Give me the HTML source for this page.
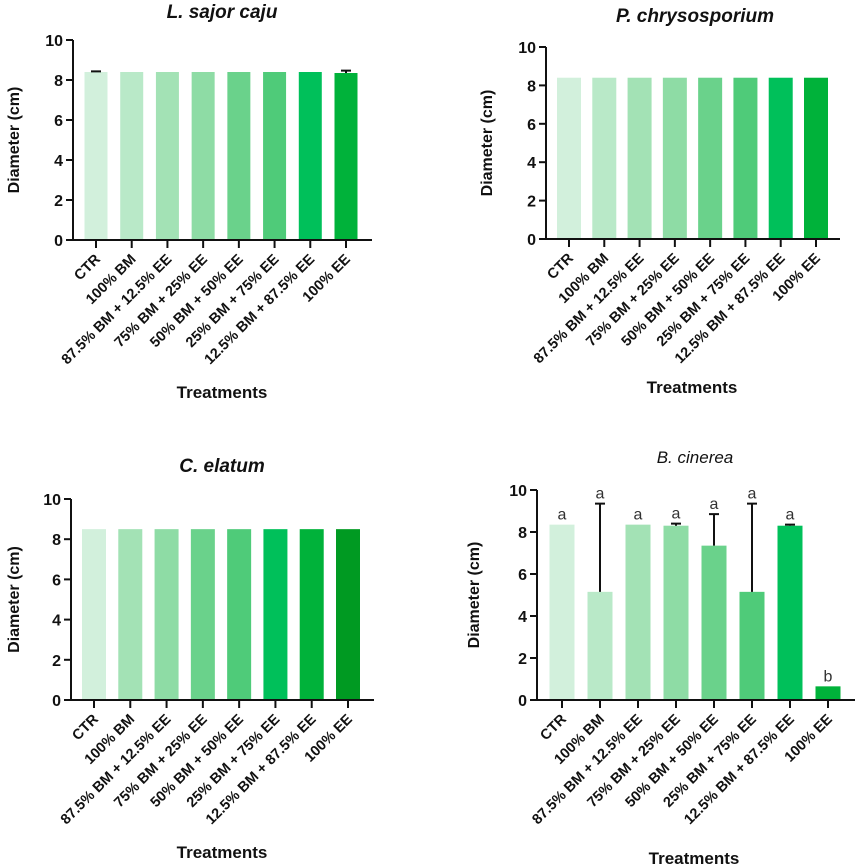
<!DOCTYPE html>
<html><head><meta charset="utf-8"><style>
html,body{margin:0;padding:0;background:#fff;}
svg{display:block;font-family:"Liberation Sans",Arial,sans-serif;}
</style></head><body>
<svg id="fig" width="858" height="867" viewBox="0 0 858 867" xmlns="http://www.w3.org/2000/svg"></svg>
<script>
const categories = ["CTR","100% BM","87.5% BM + 12.5% EE","75% BM + 25% EE","50% BM + 50% EE","25% BM + 75% EE","12.5% BM + 87.5% EE","100% EE"];
const yTicks = [0,2,4,6,8,10];
const lsajorValues = [8.4,8.4,8.4,8.4,8.4,8.4,8.4,8.35];
const lsajorErrors = [0.03,0,0,0,0,0,0,0.12];
const pchrysoValues = [8.4,8.4,8.4,8.4,8.4,8.4,8.4,8.4];
const pchrysoErrors = [0,0,0,0,0,0,0,0];
const celatumValues = [8.5,8.5,8.5,8.5,8.5,8.5,8.5,8.5];
const celatumErrors = [0,0,0,0,0,0,0,0];
const bcinereaValues = [8.35,5.15,8.35,8.3,7.35,5.15,8.3,0.65];
const bcinereaErrors = [0,4.2,0,0.1,1.5,4.2,0.05,0];
const bcinereaLetters = ["a","a","a","a","a","a","a","b"];

const colorsA = ["#d2f0dc","#b9e9c8","#a3e2b5","#8edca5","#6ad28b","#4fcb79","#00c05a","#00b23a"];
const colorsC = ["#d2f0dc","#a3e2b5","#8edca5","#6ad28b","#4fcb79","#00c05a","#00b23a","#009a22"];

const NS="http://www.w3.org/2000/svg";
const svg=document.getElementById('fig');
function mk(tag,attrs,parent){const e=document.createElementNS(NS,tag);for(const k in attrs)e.setAttribute(k,attrs[k]);(parent||svg).appendChild(e);return e;}

function chart(cfg){
  const g=mk('g',{});
  
  
  const yS=v=>cfg.y0+(cfg.y10-cfg.y0)*v/10;
  const xS=i=>cfg.c0+(cfg.c1-cfg.c0)*i/(categories.length-1);
  const t=mk('text',{x:cfg.tx,y:cfg.ty,'text-anchor':'middle','font-size':cfg.titleBold?19:17,'font-weight':cfg.titleBold?'bold':'normal','font-style':'italic',fill:'#111'},g);
  t.textContent=cfg.title;
  
  
  cfg.values.forEach((v,i)=>{
    const cx=xS(i);
    const r=mk('rect',{x:cx-cfg.bw/2,y:yS(v),width:cfg.bw,height:yS(0)-yS(v),fill:cfg.colors[i]},g);
    
    
    const e=cfg.errors[i];
    if(e>0){
      const el=mk('path',{d:`M${cx} ${yS(v)}V${yS(v+e)}M${cx-5} ${yS(v+e)}H${cx+5}`,stroke:'#111','stroke-width':2,fill:'none'},g);
      
      
    }
    if(cfg.letters){
      const lt=mk('text',{x:cx,y:yS(v+e)-5,'text-anchor':'middle','font-size':16,fill:'#333'},g);
      lt.textContent=cfg.letters[i];
      
      
    }
    mk('line',{x1:cx,x2:cx,y1:yS(0),y2:yS(0)+8,stroke:'#111','stroke-width':2},g);
    const lx=cx+5, ly=yS(0)+20;
    const tl=mk('text',{x:lx,y:ly,'text-anchor':'end','font-size':14.5,'font-weight':'bold',fill:'#111',transform:`rotate(-45 ${lx} ${ly})`},g);
    tl.textContent=categories[i];
    
    
  });
  mk('path',{d:`M${cfg.ax} ${yS(10)}V${yS(0)}H${cfg.aend}`,stroke:'#111','stroke-width':2,fill:'none'},g);
  yTicks.forEach(v=>{
    mk('line',{x1:cfg.ax-7,x2:cfg.ax,y1:yS(v),y2:yS(v),stroke:'#111','stroke-width':2},g);
    const yl=mk('text',{x:cfg.ax-10,y:yS(v)+6,'text-anchor':'end','font-size':16,'font-weight':'bold',fill:'#111'},g);
    yl.textContent=v;
    
    
  });
  const cy=(yS(0)+yS(10))/2;
  const ylab=mk('text',{x:cfg.ylx,y:cy,'text-anchor':'middle','font-size':16,'font-weight':'bold',fill:'#111',transform:`rotate(-90 ${cfg.ylx} ${cy})`},g);
  ylab.textContent='Diameter (cm)';
  
  
  const xl=mk('text',{x:cfg.xtx,y:cfg.xty,'text-anchor':'middle','font-size':17,'font-weight':'bold',fill:'#111'},g);
  xl.textContent='Treatments';
  
  
}

chart({name:'chart-l-sajor-caju',title:'L. sajor caju',titleBold:true,tx:222,ty:18,values:lsajorValues,errors:lsajorErrors,colors:colorsA,
  ax:73,aend:372,y0:240,y10:40,c0:96,c1:346,bw:23,ylx:19,xtx:222,xty:398});
chart({name:'chart-p-chrysosporium',title:'P. chrysosporium',titleBold:true,tx:695,ty:22,values:pchrysoValues,errors:pchrysoErrors,colors:colorsA,
  ax:546,aend:840,y0:239,y10:47,c0:569,c1:816,bw:24,ylx:492,xtx:692,xty:393});
chart({name:'chart-c-elatum',title:'C. elatum',titleBold:true,tx:222,ty:472,values:celatumValues,errors:celatumErrors,colors:colorsC,
  ax:71,aend:374,y0:700,y10:499,c0:94,c1:348,bw:24,ylx:19,xtx:222,xty:858});
chart({name:'chart-b-cinerea',title:'B. cinerea',titleBold:false,tx:695,ty:463,values:bcinereaValues,errors:bcinereaErrors,letters:bcinereaLetters,colors:colorsA,
  ax:537,aend:855,y0:700,y10:490,c0:562,c1:828,bw:25,ylx:479,xtx:694,xty:864});
</script>
</body></html>
